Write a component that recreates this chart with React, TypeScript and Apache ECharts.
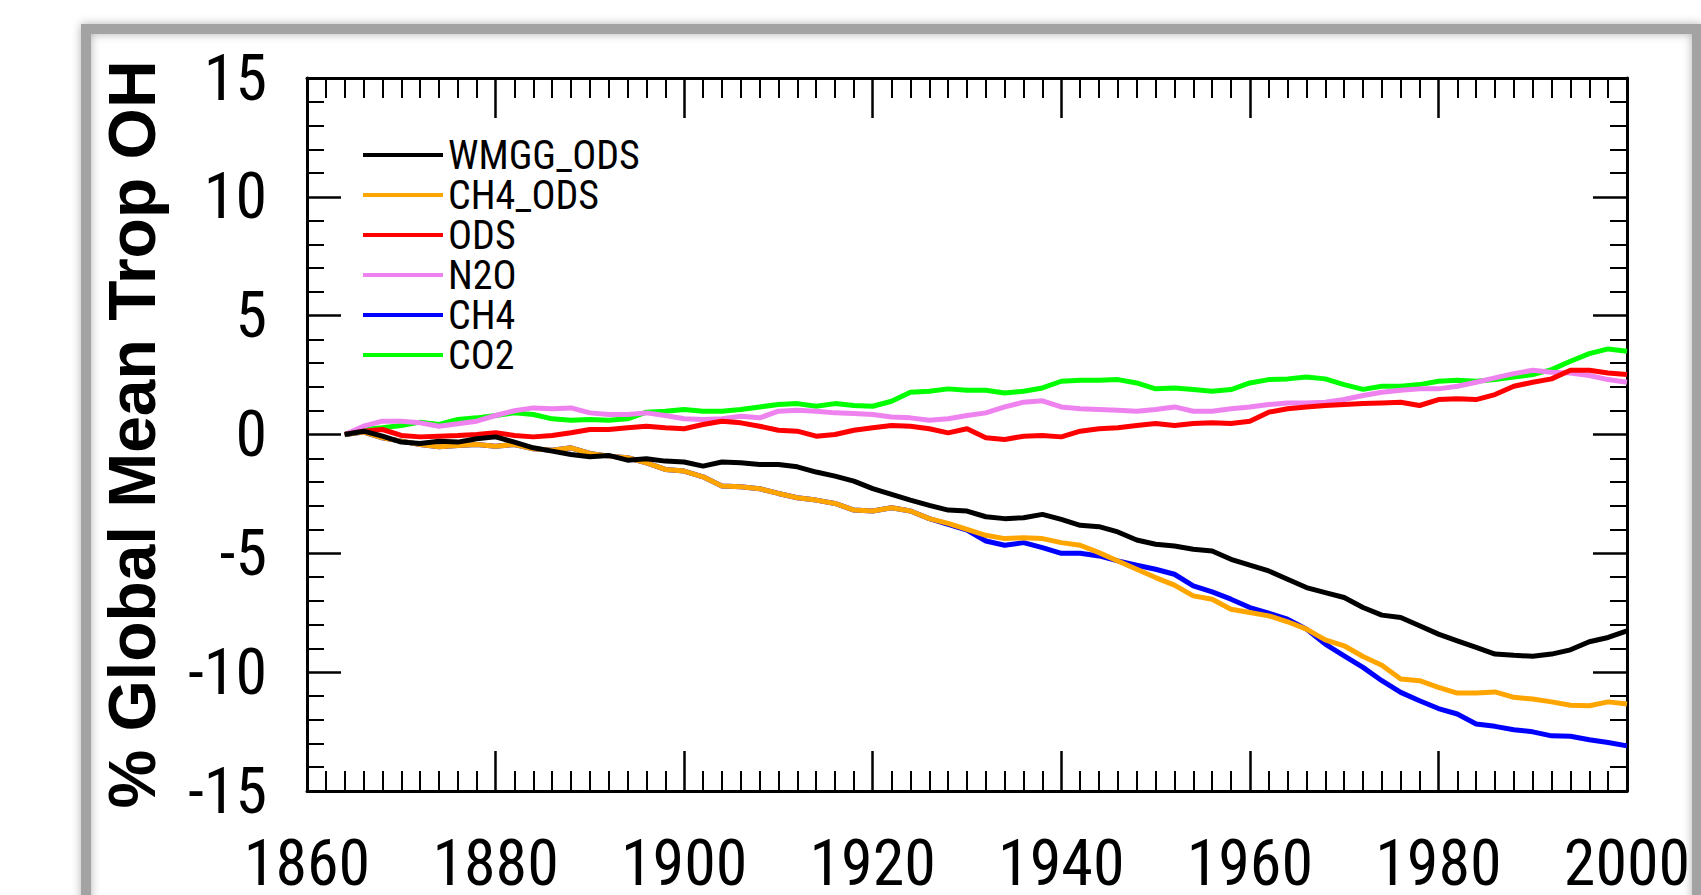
import React, { useEffect, useRef } from "react";
import * as echarts from "echarts";

const YEARS = [
  1864, 1866, 1868, 1870, 1872, 1874, 1876, 1878, 1880, 1882, 1884, 1886, 1888, 1890,
  1892, 1894, 1896, 1898, 1900, 1902, 1904, 1906, 1908, 1910, 1912, 1914, 1916, 1918,
  1920, 1922, 1924, 1926, 1928, 1930, 1932, 1934, 1936, 1938, 1940, 1942, 1944, 1946,
  1948, 1950, 1952, 1954, 1956, 1958, 1960, 1962, 1964, 1966, 1968, 1970, 1972, 1974,
  1976, 1978, 1980, 1982, 1984, 1986, 1988, 1990, 1992, 1994, 1996, 1998, 2000,
];

const WMGG_ODS = [
  0, 0.14, -0.07, -0.32, -0.38, -0.28, -0.32, -0.18, -0.1, -0.32, -0.56, -0.7, -0.84, -0.94,
  -0.88, -1.08, -1.02, -1.12, -1.16, -1.33, -1.16, -1.19, -1.26, -1.26, -1.36, -1.58, -1.75, -1.96,
  -2.28, -2.52, -2.76, -2.98, -3.18, -3.22, -3.46, -3.54, -3.5, -3.36, -3.57, -3.82, -3.88, -4.1,
  -4.44, -4.62, -4.69, -4.83, -4.9, -5.25, -5.5, -5.74, -6.09, -6.44, -6.65, -6.86, -7.28, -7.6,
  -7.7, -8.05, -8.4, -8.68, -8.96, -9.24, -9.29, -9.33, -9.24, -9.06, -8.72, -8.54, -8.26,
];

const CH4_ODS = [
  0, 0.1, -0.14, -0.28, -0.42, -0.52, -0.46, -0.42, -0.49, -0.42, -0.6, -0.66, -0.56, -0.8,
  -0.91, -0.98, -1.19, -1.47, -1.54, -1.78, -2.17, -2.2, -2.28, -2.48, -2.66, -2.76, -2.9, -3.18,
  -3.22, -3.08, -3.22, -3.54, -3.74, -3.99, -4.24, -4.38, -4.34, -4.38, -4.55, -4.66, -4.97, -5.32,
  -5.67, -6.02, -6.34, -6.79, -6.93, -7.35, -7.49, -7.63, -7.88, -8.19, -8.64, -8.89, -9.34, -9.71,
  -10.29, -10.36, -10.64, -10.88, -10.88, -10.83, -11.06, -11.13, -11.25, -11.39, -11.41, -11.25, -11.34,
];

const ODS = [
  0, 0.14, 0.21, -0.04, -0.1, -0.07, -0.04, 0, 0.07, -0.04, -0.1, -0.04, 0.07, 0.21,
  0.21, 0.28, 0.35, 0.28, 0.24, 0.42, 0.56, 0.49, 0.35, 0.18, 0.14, -0.07, 0, 0.18,
  0.28, 0.38, 0.35, 0.24, 0.07, 0.24, -0.14, -0.21, -0.07, -0.04, -0.1, 0.14, 0.24, 0.28,
  0.38, 0.46, 0.38, 0.46, 0.49, 0.46, 0.56, 0.94, 1.08, 1.16, 1.22, 1.26, 1.3, 1.33,
  1.36, 1.22, 1.47, 1.5, 1.47, 1.68, 2.03, 2.2, 2.34, 2.7, 2.7, 2.59, 2.52,
];

const N2O = [
  0, 0.35, 0.56, 0.56, 0.49, 0.35, 0.45, 0.56, 0.8, 1.0, 1.12, 1.08, 1.12, 0.91,
  0.84, 0.84, 0.91, 0.8, 0.66, 0.63, 0.66, 0.77, 0.7, 0.98, 1.02, 0.98, 0.91, 0.88,
  0.84, 0.74, 0.7, 0.6, 0.66, 0.8, 0.91, 1.16, 1.36, 1.42, 1.16, 1.08, 1.05, 1.02,
  0.98, 1.05, 1.16, 0.98, 0.98, 1.08, 1.16, 1.26, 1.33, 1.33, 1.36, 1.47, 1.64, 1.78,
  1.86, 1.92, 1.92, 2.03, 2.2, 2.38, 2.56, 2.7, 2.62, 2.59, 2.48, 2.31, 2.2,
];

const CH4 = [
  0, 0.1, -0.14, -0.28, -0.42, -0.52, -0.46, -0.42, -0.49, -0.42, -0.6, -0.66, -0.56, -0.8,
  -0.91, -0.98, -1.19, -1.47, -1.54, -1.78, -2.17, -2.2, -2.28, -2.48, -2.66, -2.76, -2.9, -3.18,
  -3.22, -3.08, -3.22, -3.54, -3.78, -4.02, -4.48, -4.66, -4.55, -4.76, -5.0, -5.0, -5.11, -5.32,
  -5.5, -5.67, -5.88, -6.37, -6.62, -6.93, -7.28, -7.52, -7.77, -8.19, -8.82, -9.31, -9.8, -10.36,
  -10.85, -11.2, -11.53, -11.76, -12.18, -12.28, -12.42, -12.51, -12.68, -12.7, -12.84, -12.96, -13.1,
];

const CO2 = [
  0, 0.21, 0.28, 0.38, 0.52, 0.42, 0.63, 0.7, 0.8, 0.91, 0.84, 0.66, 0.6, 0.63,
  0.6, 0.66, 0.94, 0.98, 1.05, 0.98, 0.98, 1.05, 1.16, 1.26, 1.3, 1.19, 1.3, 1.22,
  1.19, 1.4, 1.78, 1.82, 1.92, 1.86, 1.86, 1.75, 1.82, 1.96, 2.24, 2.28, 2.28, 2.31,
  2.17, 1.92, 1.96, 1.89, 1.82, 1.89, 2.17, 2.31, 2.34, 2.42, 2.34, 2.1, 1.9, 2.03,
  2.03, 2.1, 2.24, 2.28, 2.24, 2.31, 2.42, 2.52, 2.73, 3.08, 3.4, 3.6, 3.5,
];

const LEGEND_ORDER = ["WMGG_ODS", "CH4_ODS", "ODS", "N2O", "CH4", "CO2"];

// drawing order (first drawn at the bottom)
const SERIES_DEFS = [
  { name: "CO2", values: CO2, color: "#00ff00" },
  { name: "N2O", values: N2O, color: "#ee82ee" },
  { name: "ODS", values: ODS, color: "#ff0000" },
  { name: "CH4", values: CH4, color: "#0000ff" },
  { name: "CH4_ODS", values: CH4_ODS, color: "#ffa500" },
  { name: "WMGG_ODS", values: WMGG_ODS, color: "#000000" },
];

const NARROW_FONT = "'Roboto Condensed', 'Liberation Sans', sans-serif";

export default function App() {
  const ref = useRef<HTMLDivElement>(null);

  useEffect(() => {
    if (!ref.current) return;
    const chart = echarts.init(ref.current, null, { renderer: "svg" });

    const axisCommon = {
      type: "value" as const,
      axisLine: { show: true, onZero: false, lineStyle: { color: "#000", width: 3 } },
      axisTick: { show: true, inside: true, lineStyle: { color: "#000", width: 2.5 } },
      minorTick: { show: true, lineStyle: { color: "#000", width: 2 } },
      splitLine: { show: false },
      minorSplitLine: { show: false },
    };

    const xCommon = {
      ...axisCommon,
      min: 1860,
      max: 2000,
      interval: 20,
      axisTick: { ...axisCommon.axisTick, length: 40 },
      minorTick: { ...axisCommon.minorTick, splitNumber: 10, length: 20 },
    };
    const yCommon = {
      ...axisCommon,
      min: -15,
      max: 15,
      interval: 5,
      axisTick: { ...axisCommon.axisTick, length: 34 },
      minorTick: { ...axisCommon.minorTick, splitNumber: 5, length: 17 },
    };

    chart.setOption({
      animation: false,
      backgroundColor: "#ffffff",
      graphic: [
        {
          type: "rect",
          z: -10,
          shape: { x: 86, y: 29, width: 1611, height: 900 },
          style: {
            fill: "none",
            stroke: "#a3a3a3",
            lineWidth: 10,
            shadowBlur: 10,
            shadowColor: "rgba(0,0,0,0.3)",
          },
        },
      ],
      grid: { left: 307, right: 74, top: 78, bottom: 103, containLabel: false },
      legend: {
        data: LEGEND_ORDER,
        orient: "vertical",
        left: 358,
        top: 130,
        itemWidth: 80,
        itemHeight: 4,
        itemGap: 0,
        icon: "rect",
        selectedMode: false,
        textStyle: {
          fontFamily: NARROW_FONT,
          fontSize: 40,
          color: "#000",
          lineHeight: 36,
        },
      },
      xAxis: [
        {
          ...xCommon,
          position: "bottom",
          axisLabel: {
            show: true,
            margin: 49,
            lineHeight: 46,
            fontFamily: NARROW_FONT,
            fontSize: 64,
            color: "#000",
            formatter: (v: number) => String(v),
          },
        },
        {
          ...xCommon,
          position: "top",
          axisLabel: { show: false },
        },
      ],
      yAxis: [
        {
          ...yCommon,
          position: "left",
          name: "% Global Mean Trop OH",
          nameLocation: "middle",
          nameRotate: 90,
          nameGap: 142,
          nameTextStyle: {
            fontFamily: "'Liberation Sans', Arial, sans-serif",
            fontWeight: "bold",
            fontSize: 66,
            color: "#000",
          },
          axisLabel: {
            show: true,
            margin: 40,
            fontFamily: NARROW_FONT,
            fontSize: 64,
            color: "#000",
          },
        },
        {
          ...yCommon,
          position: "right",
          axisLabel: { show: false },
        },
      ],
      series: SERIES_DEFS.map((s) => ({
        name: s.name,
        type: "line",
        xAxisIndex: 0,
        yAxisIndex: 0,
        showSymbol: false,
        symbol: "none",
        color: s.color,
        itemStyle: { color: s.color },
        lineStyle: { color: s.color, width: 5 },
        data: YEARS.map((y, i) => [y, s.values[i]]),
      })),
    });

    return () => chart.dispose();
  }, []);

  return (
    <div
      ref={ref}
      style={{ position: "fixed", left: 0, top: 0, width: 1701, height: 895, background: "#fff" }}
    />
  );
}
